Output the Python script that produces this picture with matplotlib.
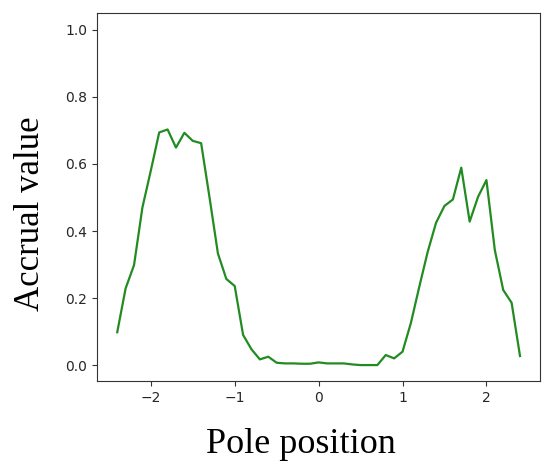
import matplotlib
matplotlib.use('Agg')
import matplotlib.pyplot as plt
import numpy as np

# pole positions (step 0.1) and accrual values
pole = np.linspace(-2.4, 2.4, 49)
accrual = [0.098, 0.229, 0.298, 0.47, 0.58, 0.694, 0.703, 0.649, 0.693, 0.669,
           0.662, 0.50, 0.333, 0.257, 0.236, 0.09, 0.047, 0.017, 0.025, 0.007,
           0.005, 0.005, 0.004, 0.004, 0.008, 0.005, 0.005, 0.005, 0.002, 0.0,
           0.0, 0.0, 0.03, 0.02, 0.04, 0.126, 0.234, 0.338, 0.425, 0.475,
           0.494, 0.589, 0.428, 0.502, 0.552, 0.343, 0.224, 0.186, 0.027]

fig = plt.figure(figsize=(5.58, 4.7), dpi=100)
ax = fig.add_axes([0.174, 0.189, 0.794, 0.783])
ax.plot(pole, accrual, color='forestgreen', linewidth=1.6)
ax.set_ylim(-0.048, 1.05)
ax.set_yticks([0.0, 0.2, 0.4, 0.6, 0.8, 1.0])
ax.set_xticks([-2, -1, 0, 1, 2])
ax.tick_params(colors='#333333', labelcolor='#262626')
for s in ax.spines.values():
    s.set_color('#333333')

# axis titles sit a bit off-centre in the original, so place them by hand
fig.text(0.540, 0.036, 'Pole position', family='Liberation Serif', fontsize=26,
         ha='center', va='baseline')
fig.text(0.055, 0.546, 'Accrual value', family='Liberation Serif', fontsize=25,
         rotation=90, ha='center', va='center')

fig.savefig('out.png', dpi=100)
